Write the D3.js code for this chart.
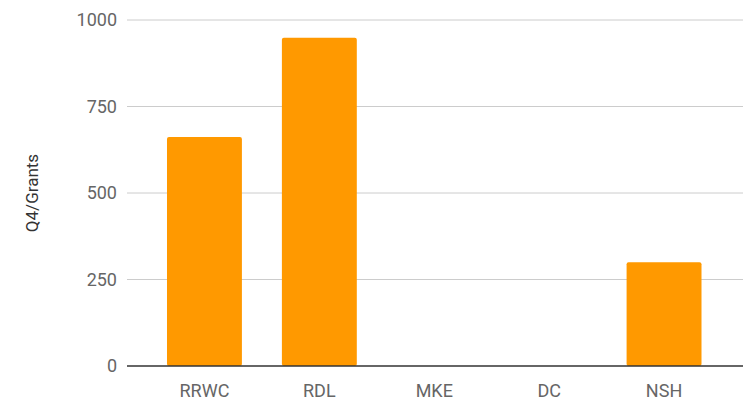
<!DOCTYPE html>
<html>
<head>
<meta charset="utf-8">
<script src="https://cdn.jsdelivr.net/npm/d3@7"></script>
<style>
  html, body { margin: 0; padding: 0; background: #fff; }
  svg { display: block; font-family: Roboto, "Noto Sans", sans-serif; }
</style>
</head>
<body>
<svg id="chart" width="749" height="401"></svg>
<script>
// Q4 grants by office
const categories = ["RRWC", "RDL", "MKE", "DC", "NSH"];
const grants = [662, 949, 0, 0, 300];
const yTicks = [0, 250, 500, 750, 1000];
const yTitle = "Q4/Grants";

const svg = d3.select("#chart");

const gridLeft = 127, gridRight = 743;
const y = d3.scaleLinear().domain([0, 1000]).range([366, 20]);
const x = d3.scaleBand()
  .domain(categories)
  .range([147, 721.5])
  .paddingInner(0.348)
  .paddingOuter(0.174);

// horizontal gridlines
svg.append("g")
  .selectAll("line")
  .data(yTicks.filter(t => t !== 0))
  .join("line")
  .attr("x1", gridLeft).attr("x2", gridRight)
  .attr("y1", d => y(d)).attr("y2", d => y(d))
  .attr("stroke", "#cccccc").attr("stroke-width", 1);

// y tick labels
svg.append("g")
  .selectAll("text")
  .data(yTicks)
  .join("text")
  .attr("x", 117)
  .attr("y", d => y(d))
  .attr("dy", "0.36em")
  .attr("text-anchor", "end")
  .attr("font-size", 18)
  .attr("fill", "#666")
  .text(d => d);

// bars
svg.append("g")
  .selectAll("rect")
  .data(categories.map((c, i) => ({ c, v: grants[i] })))
  .join("rect")
  .attr("x", d => x(d.c))
  .attr("width", x.bandwidth())
  .attr("y", d => y(d.v))
  .attr("height", d => y(0) - y(d.v))
  .attr("rx", 2)
  .attr("fill", "#ff9900");

// baseline
svg.append("line")
  .attr("x1", gridLeft).attr("x2", gridRight)
  .attr("y1", y(0)).attr("y2", y(0))
  .attr("stroke", "#333").attr("stroke-width", 1.5);

// x labels
svg.append("g")
  .selectAll("text")
  .data(categories)
  .join("text")
  .attr("x", d => x(d) + x.bandwidth() / 2)
  .attr("y", 397)
  .attr("text-anchor", "middle")
  .attr("font-size", 18)
  .attr("fill", "#666")
  .text(d => d);

// y axis title
svg.append("text")
  .attr("transform", `translate(38, ${y(500)}) rotate(-90)`)
  .attr("text-anchor", "middle")
  .attr("font-size", 17)
  .attr("fill", "#333")
  .text(yTitle);
</script>
</body>
</html>
